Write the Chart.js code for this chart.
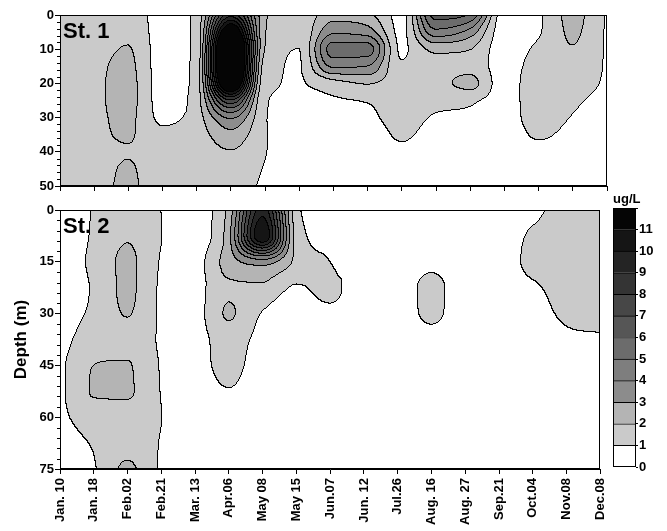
<!DOCTYPE html>
<html>
<head>
<meta charset="utf-8">
<script src="https://cdn.jsdelivr.net/npm/chart.js@4.4.1/dist/chart.umd.min.js"></script>
<style>
  body { margin: 0; background: #fff; width: 667px; height: 531px; position: relative; overflow: hidden; }
  canvas { position: absolute; }
</style>
</head>
<body>
<canvas id="st1" width="620" height="195" style="left:0;top:0"></canvas>
<canvas id="st2" width="620" height="336" style="left:0;top:195px"></canvas>
<canvas id="bar" width="67" height="290" style="left:600px;top:190px"></canvas>
<script>
// sampling dates (x) and depths (y)
const dates = ["Jan. 10", "Jan. 18", "Feb.02", "Feb.21", "Mar. 13", "Apr.06", "May 08", "May 15", "Jun.07",
  "Jun. 12", "Jul.26", "Aug. 16", "Aug. 27", "Sep.21", "Oct.04", "Nov.08", "Dec.08"];
const depths1 = [0, 5, 10, 15, 20, 25, 30, 35, 40, 45, 50];
const depths2 = [0, 7.5, 15, 22.5, 30, 37.5, 45, 52.5, 60, 67.5, 75];

// chlorophyll (ug/L), one row per date, values down the depths
const st1 = [
  [1.5, 1.5, 1.5, 1.5, 1.5, 1.5, 1.5, 1.5, 1.5, 1.5, 1.5],
  [1.5, 1.6, 1.7, 1.8, 1.8, 1.8, 1.8, 1.8, 1.7, 1.6, 1.6],
  [1.6, 1.8, 2.05, 2.2, 2.3, 2.3, 2.2, 2.1, 1.95, 2.1, 2.2],
  [0.6, 0.6, 0.6, 0.6, 0.6, 0.65, 0.8, 1.2, 1.4, 1.4, 1.4],
  [1.3, 1.3, 1.3, 1.35, 1.4, 1.5, 1.5, 1.5, 1.5, 1.4, 1.4],
  [8.5, 13, 16, 16, 14, 8, 4.2, 2.7, 1.95, 1.6, 1.4],
  [2.2, 2.1, 2.0, 1.6, 1.3, 1.1, 1.1, 1.1, 1.05, 0.95, 0.85],
  [1.3, 1.15, 1.0, 0.95, 0.95, 0.8, 0.6, 0.5, 0.4, 0.4, 0.4],
  [2.5, 3.8, 5.4, 4.2, 1.6, 0.9, 0.6, 0.5, 0.4, 0.4, 0.4],
  [2.2, 3.5, 5.4, 4.0, 2.1, 1.1, 0.75, 0.5, 0.4, 0.4, 0.4],
  [0.7, 0.75, 0.85, 1.1, 1.4, 1.5, 1.4, 1.15, 0.8, 0.5, 0.4],
  [6.5, 4.7, 2.3, 1.7, 1.6, 1.3, 0.9, 0.6, 0.4, 0.4, 0.4],
  [6.0, 3.6, 2.05, 1.7, 2.3, 1.2, 0.8, 0.5, 0.4, 0.4, 0.4],
  [0.5, 0.5, 0.5, 0.5, 0.5, 0.5, 0.5, 0.4, 0.4, 0.4, 0.4],
  [0.85, 0.9, 1.2, 1.5, 1.6, 1.6, 1.5, 1.15, 0.7, 0.5, 0.4],
  [2.3, 2.15, 1.95, 1.7, 1.6, 1.2, 0.95, 0.7, 0.5, 0.4, 0.4],
  [0.9, 0.9, 0.9, 0.9, 0.8, 0.6, 0.5, 0.4, 0.4, 0.4, 0.4]
];
const st2 = [
  [0.3, 0.35, 0.4, 0.4, 0.45, 0.5, 0.75, 0.75, 0.7, 0.4, 0.3],
  [1.05, 1.1, 1.2, 1.1, 1.2, 1.6, 2.0, 2.05, 1.6, 1.1, 0.9],
  [1.6, 1.9, 2.2, 2.2, 2.05, 1.7, 2.05, 2.1, 1.7, 1.7, 2.2],
  [1.0, 1.02, 0.95, 0.9, 0.9, 0.9, 0.95, 0.98, 1.02, 0.95, 0.9],
  [0.7, 0.7, 0.7, 0.7, 0.7, 0.7, 0.7, 0.6, 0.5, 0.4, 0.3],
  [2.3, 2.6, 2.5, 1.85, 2.1, 1.45, 1.3, 0.95, 0.5, 0.4, 0.3],
  [9.5, 11, 3.6, 1.8, 0.95, 0.7, 0.5, 0.4, 0.3, 0.3, 0.3],
  [1.4, 1.7, 1.8, 0.9, 0.5, 0.4, 0.3, 0.3, 0.3, 0.3, 0.3],
  [0.3, 0.6, 1.0, 1.3, 0.75, 0.4, 0.3, 0.3, 0.3, 0.3, 0.3],
  [0.3, 0.3, 0.3, 0.3, 0.3, 0.3, 0.3, 0.3, 0.3, 0.3, 0.3],
  [0.3, 0.3, 0.3, 0.3, 0.3, 0.3, 0.3, 0.3, 0.3, 0.3, 0.3],
  [0.3, 0.3, 0.6, 1.4, 1.3, 0.5, 0.3, 0.3, 0.3, 0.3, 0.3],
  [0.3, 0.3, 0.3, 0.3, 0.3, 0.3, 0.3, 0.3, 0.3, 0.3, 0.3],
  [0.3, 0.3, 0.3, 0.3, 0.3, 0.3, 0.3, 0.3, 0.3, 0.3, 0.3],
  [0.6, 1.2, 1.4, 0.8, 0.5, 0.3, 0.3, 0.3, 0.3, 0.3, 0.3],
  [1.6, 1.6, 1.6, 1.5, 1.2, 0.8, 0.5, 0.3, 0.3, 0.3, 0.3],
  [1.6, 1.6, 1.6, 1.6, 1.3, 0.9, 0.5, 0.3, 0.3, 0.3, 0.3]
];

// colour scale
const levels = [0, 1, 2, 3, 4, 5, 6, 7, 8, 9, 10, 11];
const shades = ["#ffffff", "#cacaca", "#b4b4b4", "#8c8c8c", "#7e7e7e", "#6c6c6c",
  "#565656", "#474747", "#343434", "#242424", "#151515", "#050505"];

const FONT = "Arial, 'Liberation Sans', sans-serif";
Chart.defaults.font.family = FONT;
Chart.defaults.color = "#000";

const rgb = shades.map(h => [1, 3, 5].map(i => parseInt(h.substr(i, 2), 16)));

// Fritsch-Carlson monotone cubic along one list of values, t in index units
function slopeAt(v, i) {
  const n = v.length;
  if (i === 0) return v[1] - v[0];
  if (i === n - 1) return v[n - 1] - v[n - 2];
  const a = v[i] - v[i - 1], b = v[i + 1] - v[i];
  if (a * b <= 0) return 0;
  const m = (a + b) / 2, lim = 3 * Math.min(Math.abs(a), Math.abs(b));
  return Math.sign(m) * Math.min(Math.abs(m), lim);
}
function mono(v, t) {
  const n = v.length;
  t = Math.max(0, Math.min(n - 1, t));
  const k = Math.min(n - 2, Math.floor(t)), s = t - k;
  const s2 = s * s, s3 = s2 * s;
  return (2 * s3 - 3 * s2 + 1) * v[k] + (s3 - 2 * s2 + s) * slopeAt(v, k) +
    (-2 * s3 + 3 * s2) * v[k + 1] + (s3 - s2) * slopeAt(v, k + 1);
}

// filled contours + contour lines, sampled through the chart's own scales
const contourPlugin = {
  id: "contour",
  beforeDatasetsDraw(chart, args, opts) {
    const { ctx, chartArea: a, scales: { x, y } } = chart;
    const left = Math.round(a.left), top = Math.round(a.top);
    const w = Math.round(a.right) - left, h = Math.round(a.bottom) - top;
    const step = opts.depths[1] - opts.depths[0];
    const lv = new Int8Array(w * h);
    for (let j = 0; j < h; j++) {
      const r = y.getValueForPixel(top + j + 0.5) / step;
      const row = opts.grid.map(col => mono(col, r));
      for (let i = 0; i < w; i++) {
        const v = mono(row, x.getValueForPixel(left + i + 0.5));
        lv[j * w + i] = Math.max(0, Math.min(levels.length - 1, Math.floor(v)));
      }
    }
    const img = ctx.createImageData(w, h);
    for (let j = 0; j < h; j++) {
      for (let i = 0; i < w; i++) {
        const k = j * w + i, L = lv[k];
        const edge = (i < w - 1 && lv[k + 1] !== L) || (j < h - 1 && lv[k + w] !== L);
        const col = edge ? [0, 0, 0] : rgb[L];
        img.data[k * 4] = col[0];
        img.data[k * 4 + 1] = col[1];
        img.data[k * 4 + 2] = col[2];
        img.data[k * 4 + 3] = 255;
      }
    }
    ctx.putImageData(img, left, top);
  },
  afterDraw(chart, args, opts) {
    const { ctx, chartArea: a, scales: { y } } = chart;
    ctx.save();
    ctx.strokeStyle = "#000";
    ctx.lineWidth = 1;
    ctx.strokeRect(Math.round(a.left) + 0.5, Math.round(a.top) + 0.5,
      Math.round(a.right - a.left) - 1, Math.round(a.bottom - a.top) - 1);
    // minor ticks on the depth axis
    ctx.beginPath();
    for (let v = 0; v <= y.max; v += opts.minor) {
      if (v % opts.major === 0) continue;
      const py = Math.round(y.getPixelForValue(v)) + 0.5;
      ctx.moveTo(a.left - 3, py);
      ctx.lineTo(a.left, py);
    }
    ctx.stroke();
    ctx.fillStyle = "#000";
    ctx.font = "bold 22px " + FONT;
    ctx.textBaseline = "alphabetic";
    ctx.fillText(opts.label, a.left + 3, a.top + 23);
    ctx.restore();
  }
};

function panel(id, grid, depths, maxDepth, major, minor, label, bottom) {
  return new Chart(document.getElementById(id), {
    type: "scatter",
    data: { datasets: [] },
    plugins: [contourPlugin],
    options: {
      responsive: false,
      animation: false,
      layout: { padding: { left: 0, right: 13, top: 15, bottom: 0 } },
      plugins: {
        legend: { display: false },
        tooltip: { enabled: false },
        contour: { grid: grid, depths: depths, major: major, minor: minor, label: label }
      },
      scales: {
        x: {
          type: "linear", min: 0, max: dates.length - 1,
          afterBuildTicks: s => { s.ticks = dates.map((d, i) => ({ value: i })); },
          afterFit: s => { s.height = bottom ? 62 : 9; },
          grid: { drawOnChartArea: false, drawTicks: true, tickLength: 5, color: "#000" },
          border: { color: "#000" },
          ticks: {
            display: bottom, autoSkip: false, minRotation: 90, maxRotation: 90, padding: 4,
            font: { size: 13, weight: "bold" },
            callback: v => dates[v]
          }
        },
        y: {
          type: "linear", reverse: true, min: 0, max: maxDepth,
          afterFit: s => { s.width = 60; },
          grid: { drawOnChartArea: false, drawTicks: true, tickLength: 5, color: "#000" },
          border: { color: "#000" },
          ticks: { stepSize: major, padding: 1, font: { size: 13, weight: "bold" } },
          title: {
            display: bottom, text: "Depth (m)", padding: { top: 11, bottom: 0 },
            font: { size: 17, weight: "bold" }
          }
        }
      }
    }
  });
}

panel("st1", st1, depths1, 50, 10, 2, "St. 1", false);
panel("st2", st2, depths2, 75, 15, 3, "St. 2", true);

// colour bar as a stacked bar of one unit per level
new Chart(document.getElementById("bar"), {
  type: "bar",
  data: {
    labels: [""],
    datasets: levels.map((l, i) => ({
      data: [1], backgroundColor: shades[i], borderColor: "#000",
      borderWidth: { top: 1, bottom: 0, left: 0, right: 0 }, borderSkipped: false,
      barPercentage: 1, categoryPercentage: 1
    }))
  },
  plugins: [{
    id: "unit",
    afterDraw(chart) {
      const { ctx, chartArea: a } = chart;
      ctx.save();
      ctx.strokeStyle = "#000";
      ctx.strokeRect(Math.round(a.left) + 0.5, Math.round(a.top) + 0.5,
        Math.round(a.right - a.left) - 1, Math.round(a.bottom - a.top) - 1);
      ctx.fillStyle = "#000";
      ctx.font = "bold 13px " + FONT;
      ctx.fillText("ug/L", a.left, a.top - 5);
      ctx.restore();
    }
  }],
  options: {
    responsive: false,
    animation: false,
    layout: { padding: { left: 13, top: 18, bottom: 13, right: 0 } },
    plugins: { legend: { display: false }, tooltip: { enabled: false } },
    scales: {
      x: { stacked: true, display: false },
      y: {
        stacked: true, position: "right", min: 0, max: levels.length,
        afterFit: s => { s.width = 31; },
        grid: { drawOnChartArea: false, drawTicks: true, tickLength: 2, color: "#000" },
        border: { display: false },
        ticks: {
          stepSize: 1, padding: 1, font: { size: 13, weight: "bold" },
          callback: v => (v < levels.length ? v : "")
        }
      }
    }
  }
});
</script>
</body>
</html>
